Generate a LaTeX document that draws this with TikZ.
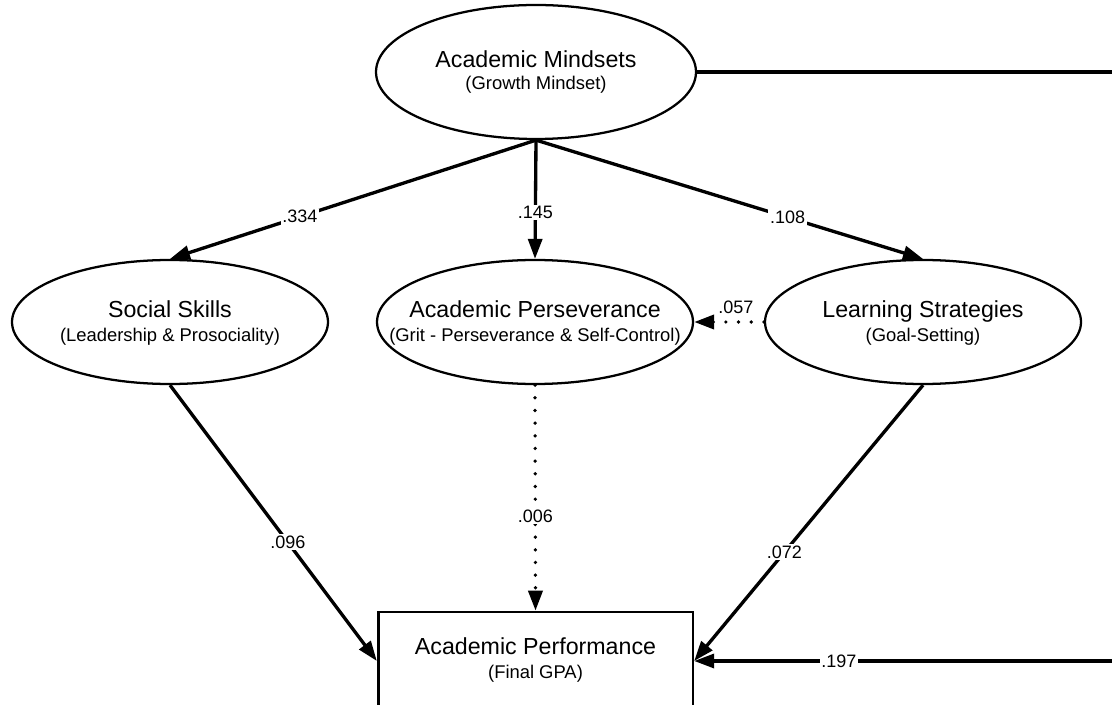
\documentclass[tikz,border=0pt]{standalone}
\usepackage{fontspec}
\setmainfont{Liberation Sans}
\usetikzlibrary{arrows.meta,shapes.geometric}
\begin{document}
\begin{tikzpicture}[x=0.75pt,y=-0.75pt,
  oval/.style={ellipse,draw,line width=1.7pt,inner sep=0pt,minimum width=237pt,minimum height=93pt},
  boxnode/.style={rectangle,draw,line width=2pt,inner sep=0pt,minimum width=236pt,minimum height=73.5pt},
  ttl/.style={font=\fontsize{17.4}{20}\selectfont,anchor=base,inner sep=0pt},
  sub/.style={font=\fontsize{13.8}{16}\selectfont,anchor=base,inner sep=0pt},
  lbl/.style={font=\fontsize{13.5}{16}\selectfont,fill=white,inner sep=1.2pt},
  lblfree/.style={font=\fontsize{13.5}{16}\selectfont,inner sep=0pt},
  arr/.style={line width=2.5pt,-{Triangle[length=15pt,width=10.5pt]}},
  dotline/.style={line width=2.8pt,line cap=round,dash pattern=on 0pt off 9.5pt}]
\useasboundingbox (0,0) rectangle (1112,705);
\clip (0,0) rectangle (1112,705);

% nodes
\node[oval,minimum width=240pt,minimum height=100.5pt] (AM) at (536,72) {};
\node[ttl] (AMt) at (536,68) {Academic Mindsets};
\node[sub] (AMs) at (536,90) {(Growth Mindset)};

\node[oval] (SS) at (170,322) {};
\node[ttl] (SSt) at (170,318) {Social Skills};
\node[sub] (SSs) at (170,342) {(Leadership \& Prosociality)};

\node[oval] (AP) at (535,322) {};
\node[ttl] (APt) at (535,318) {Academic Perseverance};
\node[sub] (APs) at (535,342) {(Grit - Perseverance \& Self-Control)};

\node[oval] (LS) at (923,322) {};
\node[ttl] (LSt) at (923,318) {Learning Strategies};
\node[sub] (LSs) at (923,342) {(Goal-Setting)};

\node[boxnode] (PF) at (535.5,661) {};
\node[ttl] (PFt) at (535.5,654) {Academic Performance};
\node[sub] (PFs) at (535.5,678) {(Final GPA)};

\coordinate (R1) at (1125,72);
\coordinate (R2) at (1125,661);

% connectors
\draw[arr] (AM.south) -- node[lbl,pos=0.645]{.334} (SS.north);
\draw[arr] (AM.south) -- node[lbl,pos=0.61]{.145} (AP.north);
\draw[arr] (AM.south) -- node[lbl,pos=0.65]{.108} (LS.north);
\draw[arr,dotline] (LS.west) -- node[lblfree,pos=0.4,yshift=11pt]{.057} (AP.east);
\draw[arr] (SS.south) -- node[lbl,pos=0.57]{.096} (PF.west);
\draw[arr,dotline] (AP.south) -- node[lbl,pos=0.58]{.006} (PF.north);
\draw[arr] (LS.south) -- node[lbl,pos=0.606]{.072} (PF.east);
\draw[arr] (AM.east) -- (R1) -- (R2) -- node[lbl,pos=0.664]{.197} (PF.east);
\end{tikzpicture}
\end{document}
